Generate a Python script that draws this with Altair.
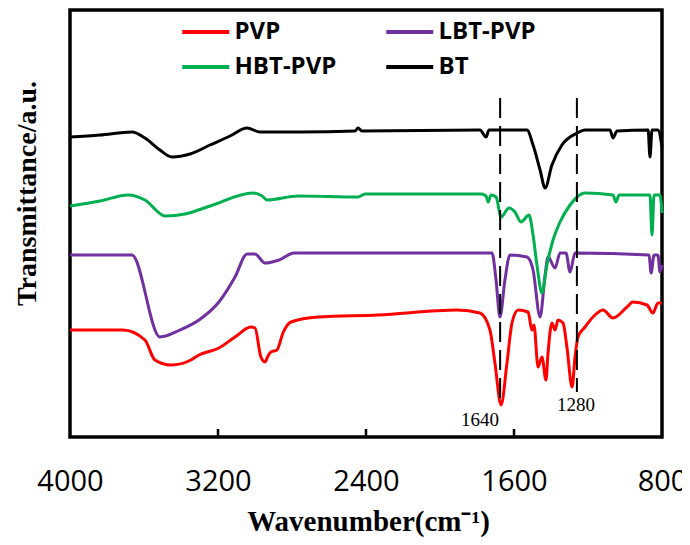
import altair as alt
import pandas as pd

series_names = ["PVP", "LBT-PVP", "HBT-PVP", "BT"]
series_colors = ["#FF0000", "#7030A0", "#00B050", "#000000"]

pvp_wn = [4000,3714,3595,3541,3454,3346,3303,3195,3108,3022,3000,2968,2946,2930,2914,2881,2849,2805,2659,2335,1908,1784,1730,1703,1670,1638,1611,1578,1524,1503,1492,1470,1449,1427,1416,1395,1378,1362,1335,1314,1286,1270,1254,1216,1173,1119,1065,989,957,881,849,822,800]
pvp_t = [107,107,97,77,72,77,82,89,100,110,109,80,75,81,85,87,104,115,120,122,127,124,107,74,32,74,114,127,125,107,112,70,80,57,84,114,107,117,114,90,50,80,100,110,120,127,119,130,135,132,124,134,134]

lbt_wn = [4000,3665,3514,3405,3303,3195,3108,3043,3000,2946,2870,2789,1719,1697,1676,1649,1622,1530,1497,1459,1432,1416,1378,1351,1319,1297,1270,870,859,843,822,811,800]
lbt_t = [182,182,100,107,117,135,160,183,183,174,177,184,184,157,120,157,182,180,167,120,162,180,169,184,184,165,184,182,164,182,182,165,172]

hbt_wn = [4000,3838,3686,3595,3486,3378,3243,3011,2962,2935,2768,2443,2405,1778,1751,1740,1724,1697,1670,1627,1595,1562,1519,1497,1476,1449,1422,1389,1351,1297,1259,1216,1065,1049,1032,865,854,843,811,800]
hbt_t = [231,236,242,237,221,223,231,244,241,237,241,240,243,243,241,235,242,240,220,229,225,215,222,202,172,144,172,197,215,232,240,244,242,235,242,242,202,242,242,224]

bt_wn = [4000,3838,3665,3595,3514,3449,3351,3243,3135,3043,2973,2757,2459,2443,2422,1784,1751,1735,1530,1497,1459,1432,1395,1341,1259,1216,1081,1065,1043,875,865,854,822,800]
bt_t = [300,302,305,299,287,280,283,292,301,309,305,305,306,309,306,307,300,307,307,292,267,249,272,292,304,307,307,299,306,307,280,307,307,290]

x_ticks = [4000, 3200, 2400, 1600, 800]
inner_ticks = [3200, 2400, 1600]

guide_wn = [1675, 1260]
guide_top = [339, 339]
guide_bottom = [34, 45]

label_text = ["1640", "1280"]
label_wn = [1784, 1265]
label_t = [17, 32]

rows = []
for name, wn, tt in [("PVP", pvp_wn, pvp_t), ("LBT-PVP", lbt_wn, lbt_t),
                     ("HBT-PVP", hbt_wn, hbt_t), ("BT", bt_wn, bt_t)]:
    for i, (w, t) in enumerate(zip(wn, tt)):
        rows.append({"series": name, "wn": w, "t": t, "order": i})
df = pd.DataFrame(rows)

xscale = alt.Scale(domain=[4000, 800], zero=False, nice=False)
yscale = alt.Scale(domain=[0, 427], zero=False, nice=False)

lines = alt.Chart(df).mark_line(strokeWidth=3, interpolate="monotone").encode(
    x=alt.X("wn:Q", scale=xscale,
            axis=alt.Axis(values=x_ticks, title="Wavenumber(cm⁻¹)", format="d")),
    y=alt.Y("t:Q", scale=yscale, axis=alt.Axis(title="Transmittance/a.u.", labels=False)),
    color=alt.Color("series:N",
                    scale=alt.Scale(domain=series_names, range=series_colors),
                    sort=series_names,
                    legend=alt.Legend(title=None, orient="none", legendX=110, legendY=8,
                                      columns=2, direction="horizontal")),
    order="order:Q",
)

guides = alt.Chart(pd.DataFrame({"wn": guide_wn, "top": guide_top, "bottom": guide_bottom})).mark_rule(
    color="black", strokeWidth=2, strokeDash=[20, 8]
).encode(x=alt.X("wn:Q", scale=xscale), y=alt.Y("top:Q", scale=yscale), y2="bottom:Q")

ticks = alt.Chart(pd.DataFrame({"wn": inner_ticks})).mark_rule(color="black", strokeWidth=2.5).encode(
    x=alt.X("wn:Q", scale=xscale), y=alt.value(427), y2=alt.value(419)
)

labels = alt.Chart(pd.DataFrame({"wn": label_wn, "t": label_t, "txt": label_text})).mark_text(
    font="Liberation Serif", fontSize=19, color="black", align="center", baseline="middle"
).encode(x=alt.X("wn:Q", scale=xscale), y=alt.Y("t:Q", scale=yscale), text="txt:N")

chart = alt.layer(lines, guides, ticks, labels).properties(
    width=592, height=427,
    autosize=alt.AutoSizeParams(type="none"),
    padding={"left": 62, "top": 2, "right": 20, "bottom": 100},
).configure_view(
    stroke="black", strokeWidth=3.5
).configure_axis(
    grid=False, domain=False, ticks=False, tickSize=0,
    labelColor="black", titleColor="black",
).configure_axisX(
    labelFont="Open Sans", labelFontSize=29, labelPadding=53, labelBaseline="alphabetic",
    labelOverlap=False, labelFlush=False, labelBound=False,
    titleFont="Liberation Serif", titleFontWeight="bold", titleFontSize=29,
    titleX=298, titleY=93, titleBaseline="alphabetic", titleAnchor="start", titleAlign="center",
).configure_axisY(
    titleFont="Liberation Serif", titleFontWeight="bold", titleFontSize=28,
    titleX=-35, titleY=183, titleBaseline="alphabetic", titleAngle=-90, titleAlign="center",
    titleAnchor="start",
).configure_legend(
    symbolType="M-1,0H3", symbolSize=552, symbolStrokeWidth=4, labelOffset=26.5,
    labelFont="Open Sans", labelFontWeight="bold", labelFontSize=24, labelColor="black",
    rowPadding=9, columnPadding=41, padding=0, symbolFillColor="transparent",
)

chart.save("out.html", embed_options={"renderer": "svg", "actions": False})
